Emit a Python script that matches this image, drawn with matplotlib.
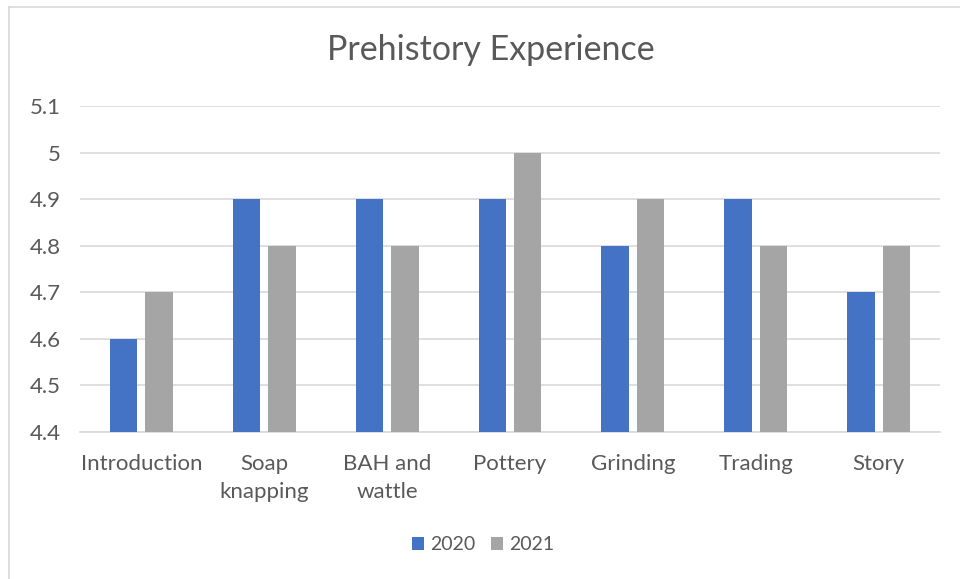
import matplotlib.pyplot as plt
import numpy as np
from matplotlib.lines import Line2D
from matplotlib.ticker import FuncFormatter

categories = ["Introduction", "Soap\nknapping", "BAH and\nwattle", "Pottery",
              "Grinding", "Trading", "Story"]
vals_2020 = [4.6, 4.9, 4.9, 4.9, 4.8, 4.9, 4.7]
vals_2021 = [4.7, 4.8, 4.8, 5.0, 4.9, 4.8, 4.8]
yticks = [4.4, 4.5, 4.6, 4.7, 4.8, 4.9, 5.0, 5.1]

plt.rcParams["font.family"] = ["Lato", "DejaVu Sans"]
txt = "#595959"

fig = plt.figure(figsize=(9.6, 5.79), dpi=100)
ax = fig.add_axes([80 / 960, 1 - 432 / 579, 860 / 960, 326 / 579])

x = np.arange(len(categories))
w = 0.224
off = 0.144
ax.bar(x - off, np.array(vals_2020) - 4.4, w, bottom=4.4, color="#4472C4", label="2020", zorder=3)
ax.bar(x + off, np.array(vals_2021) - 4.4, w, bottom=4.4, color="#A5A5A5", label="2021", zorder=3)

ax.set_xlim(-0.5, len(categories) - 0.5)
ax.set_ylim(4.4, 5.1)
ax.set_yticks(yticks)
ax.yaxis.set_major_formatter(FuncFormatter(lambda v, p: f"{round(v, 1):g}"))
ax.set_xticks(x)
ax.set_xticklabels(categories, linespacing=1.55)
ax.tick_params(axis="both", length=0, labelsize=16, colors=txt)
ax.tick_params(axis="y", pad=14)
ax.tick_params(axis="x", pad=15.5)
ax.grid(axis="y", color="#D9D9D9", linewidth=1.2, zorder=0)
for s in ["top", "right", "left"]:
    ax.spines[s].set_visible(False)
ax.spines["bottom"].set_color("#D9D9D9")
ax.spines["bottom"].set_linewidth(1.2)

fig.text(491 / 960, 1 - 50 / 579, "Prehistory Experience", ha="center", va="center",
         fontsize=24.5, color=txt)

fig.legend(loc="center", bbox_to_anchor=(483 / 960, 1 - 545 / 579), ncol=2, frameon=False,
           fontsize=14, labelcolor=txt, handlelength=0.65, handleheight=0.65,
           handletextpad=0.3, columnspacing=0.8)

# chart area border (cropped at right and bottom)
fig.add_artist(Line2D([9 / 960, 9 / 960], [1 - 7 / 579, -0.1], transform=fig.transFigure,
                      color="#D9D9D9", linewidth=1.2))
fig.add_artist(Line2D([9 / 960, 1.1], [1 - 7 / 579, 1 - 7 / 579], transform=fig.transFigure,
                      color="#D9D9D9", linewidth=1.2))

fig.savefig("out.png", dpi=100)
